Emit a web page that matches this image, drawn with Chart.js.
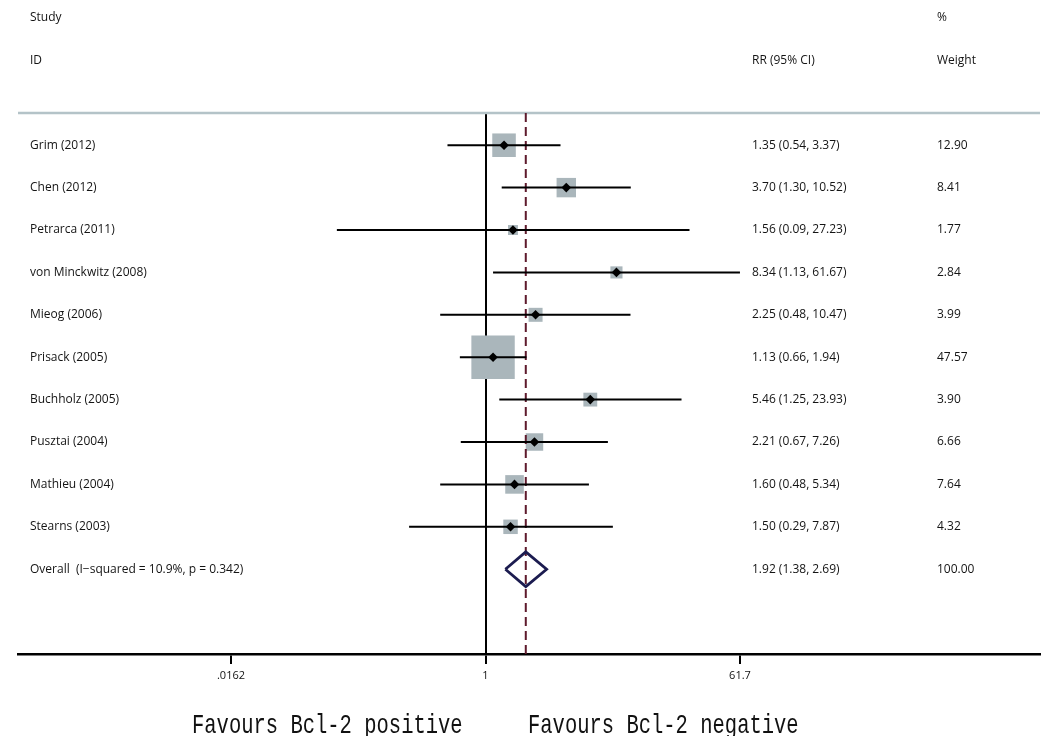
<!DOCTYPE html>
<html>
<head>
<meta charset="utf-8">
<script src="https://cdn.jsdelivr.net/npm/chart.js@4.4.1/dist/chart.umd.min.js"></script>
<style>
  html, body { margin: 0; padding: 0; background: #fff; }
  #wrap { width: 1049px; height: 736px; position: relative; }
</style>
</head>
<body>
<div id="wrap"><canvas id="forest"></canvas></div>
<script>
// study rows, top to bottom
const studies = ['Grim (2012)', 'Chen (2012)', 'Petrarca (2011)', 'von Minckwitz (2008)', 'Mieog (2006)',
  'Prisack (2005)', 'Buchholz (2005)', 'Pusztai (2004)', 'Mathieu (2004)', 'Stearns (2003)'];
const rr = [1.35, 3.70, 1.56, 8.34, 2.25, 1.13, 5.46, 2.21, 1.60, 1.50];
const lower = [0.54, 1.30, 0.09, 1.13, 0.48, 0.66, 1.25, 0.67, 0.48, 0.29];
const upper = [3.37, 10.52, 27.23, 61.67, 10.47, 1.94, 23.93, 7.26, 5.34, 7.87];
const weights = [12.90, 8.41, 1.77, 2.84, 3.99, 47.57, 3.90, 6.66, 7.64, 4.32];

const overallLabel = 'Overall  (I\u2212squared = 10.9%, p = 0.342)';
const overallRR = 1.92;
const overallLow = 1.38;
const overallHigh = 2.69;
const overallWeight = 100.00;

const xTicks = [0.0162, 1, 61.7];
const xTickLabels = ['.0162', '1', '61.7'];
const favourLabels = ['Favours Bcl-2 positive', 'Favours Bcl-2 negative'];

// row positions (0 = "Study" header line)
const firstRow = 3;
const rowOf = (i) => firstRow + i;
const overallRow = firstRow + studies.length;

const textFont = '12px "Open Sans"';
const textColor = '#141414';

const ciPoints = [];
studies.forEach((s, i) => {
  ciPoints.push({ x: lower[i], y: rowOf(i) });
  ciPoints.push({ x: upper[i], y: rowOf(i) });
  ciPoints.push({ x: upper[i], y: null });
});

const estPoints = rr.map((v, i) => ({ x: v, y: rowOf(i) }));

// square side grows with sqrt(weight); rect points take radius = side / sqrt(2)
const boxRadius = (c) => (6.0 * Math.sqrt(weights[c.dataIndex] || 0) + 2) / Math.SQRT2;

const dh = 0.41;
const diamondPoints = [
  { x: overallLow, y: overallRow },
  { x: overallRR, y: overallRow - dh },
  { x: overallHigh, y: overallRow },
  { x: overallRR, y: overallRow + dh },
  { x: overallLow, y: overallRow }
];

const yTop = 2.24;
const yBottom = 15.0;

const textPlugin = {
  id: 'forestText',
  beforeDatasetsDraw(chart) {
    const { ctx, chartArea } = chart;
    ctx.save();
    ctx.strokeStyle = '#b4c3c8';
    ctx.lineWidth = 2.5;
    ctx.beginPath();
    ctx.moveTo(chartArea.left, chartArea.top);
    ctx.lineTo(chartArea.right, chartArea.top);
    ctx.stroke();
    ctx.restore();
  },
  afterDraw(chart) {
    const { ctx } = chart;
    const y = chart.scales.y;
    const colStudy = 30, colRR = 752, colW = 937;
    const fmt = (a, b, c) => `${a.toFixed(2)} (${b.toFixed(2)}, ${c.toFixed(2)})`;
    ctx.save();
    ctx.font = textFont;
    ctx.fillStyle = textColor;
    ctx.textBaseline = 'middle';
    ctx.textAlign = 'left';
    ctx.fillText('Study', colStudy, y.getPixelForValue(0));
    ctx.fillText('%', colW, y.getPixelForValue(0));
    ctx.fillText('ID', colStudy, y.getPixelForValue(1));
    ctx.fillText('RR (95% CI)', colRR, y.getPixelForValue(1));
    ctx.fillText('Weight', colW, y.getPixelForValue(1));
    studies.forEach((s, i) => {
      const py = y.getPixelForValue(rowOf(i));
      ctx.fillText(s, colStudy, py);
      ctx.fillText(fmt(rr[i], lower[i], upper[i]), colRR, py);
      ctx.fillText(weights[i].toFixed(2), colW, py);
    });
    const po = y.getPixelForValue(overallRow);
    ctx.fillText(overallLabel, colStudy, po);
    ctx.fillText(fmt(overallRR, overallLow, overallHigh), colRR, po);
    ctx.fillText(overallWeight.toFixed(2), colW, po);

    // bottom captions
    ctx.font = '20.5px "Liberation Mono"';
    ctx.fillStyle = '#111';
    ctx.textBaseline = 'alphabetic';
    ctx.translate(0, 733);
    ctx.scale(1, 1.35);
    ctx.fillText(favourLabels[0], 192, 0);
    ctx.fillText(favourLabels[1], 528, 0);
    ctx.restore();
  }
};

new Chart(document.getElementById('forest'), {
  type: 'scatter',
  data: {
    datasets: [
      {
        label: 'Weight',
        data: estPoints,
        pointStyle: 'rect',
        pointRadius: boxRadius,
        pointHoverRadius: boxRadius,
        backgroundColor: '#aab6bb',
        borderWidth: 0,
        order: 5
      },
      {
        label: 'Overall RR',
        data: [{ x: overallRR, y: yTop }, { x: overallRR, y: yBottom }],
        showLine: true,
        borderColor: '#5e1a2c',
        borderWidth: 2,
        borderDash: [9, 5],
        pointRadius: 0,
        order: 4
      },
      {
        label: '95% CI',
        data: ciPoints,
        showLine: true,
        spanGaps: false,
        borderColor: '#000',
        borderWidth: 2,
        pointRadius: 0,
        order: 3
      },
      {
        label: 'RR',
        data: estPoints,
        pointStyle: 'rectRot',
        pointRadius: 4.8,
        backgroundColor: '#000',
        borderWidth: 0,
        order: 2
      },
      {
        label: 'Overall',
        data: diamondPoints,
        showLine: true,
        borderColor: '#1c1c50',
        borderWidth: 2.8,
        borderJoinStyle: 'miter',
        pointRadius: 0,
        order: 1
      }
    ]
  },
  options: {
    responsive: true,
    maintainAspectRatio: false,
    animation: false,
    devicePixelRatio: 1,
    layout: { autoPadding: false, padding: { left: 18, right: 9, top: 113, bottom: 0 } },
    plugins: {
      legend: { display: false },
      tooltip: { enabled: false }
    },
    scales: {
      x: {
        type: 'logarithmic',
        min: 0.000514,
        max: 7960,
        afterBuildTicks: (scale) => {
          scale.ticks = xTicks.map((v) => ({ value: v }));
        },
        afterFit: (scale) => {
          scale.height = 82;
        },
        ticks: {
          autoSkip: false,
          maxRotation: 0,
          padding: 5,
          color: '#111',
          font: { family: 'Open Sans', size: 11 },
          callback: (v, i) => xTickLabels[i]
        },
        grid: {
          display: true,
          drawOnChartArea: true,
          color: (c) => (c.tick && c.tick.value === 1 ? '#000' : 'rgba(0,0,0,0)'),
          lineWidth: 2,
          tickColor: '#000',
          tickLength: 10,
          tickWidth: 2
        },
        border: { display: true, color: '#000', width: 2.5 }
      },
      y: {
        type: 'linear',
        reverse: true,
        min: yTop,
        max: yBottom,
        display: false
      }
    }
  },
  plugins: [textPlugin]
});
</script>
</body>
</html>
